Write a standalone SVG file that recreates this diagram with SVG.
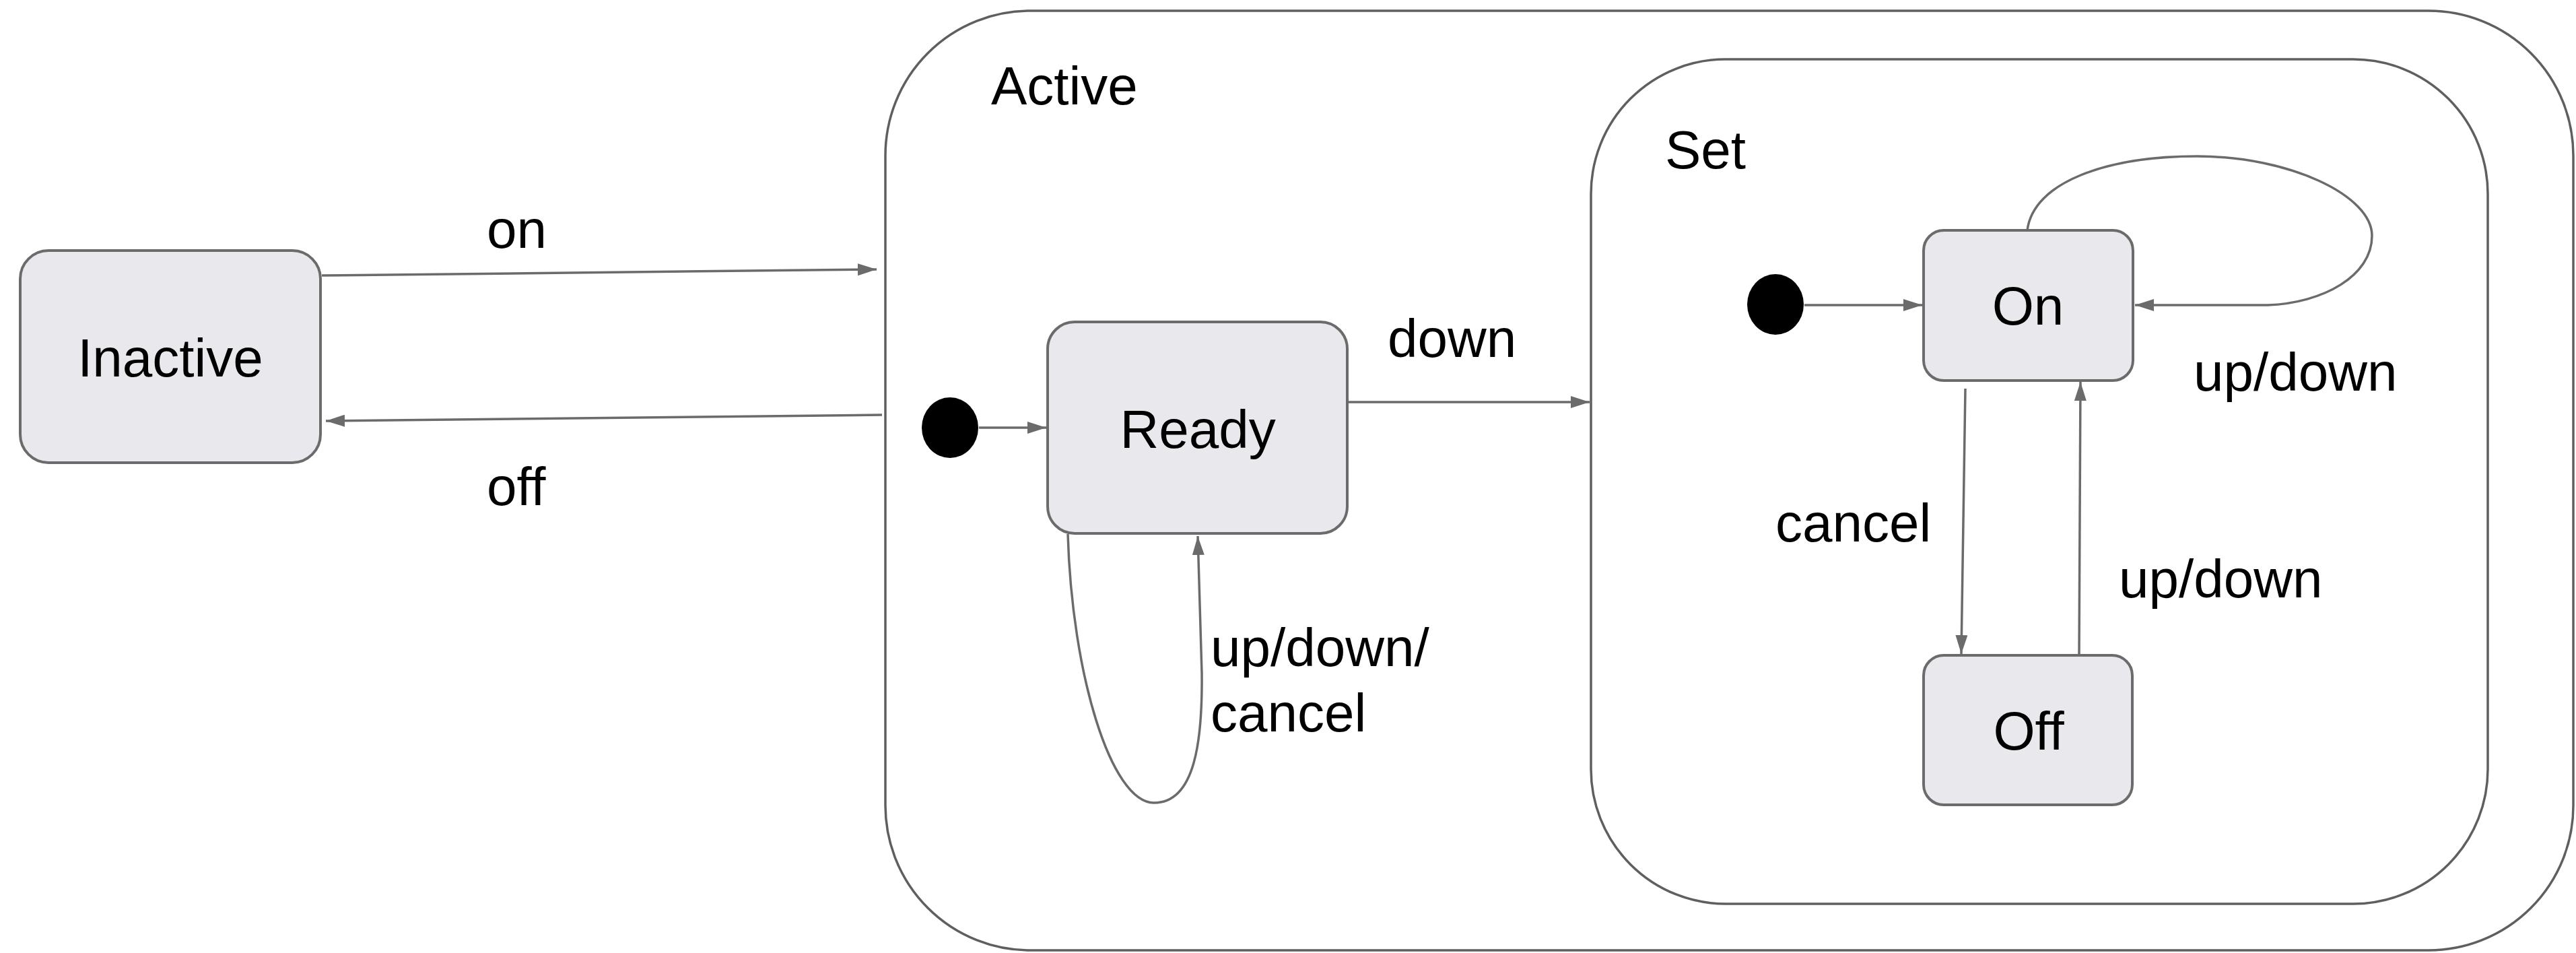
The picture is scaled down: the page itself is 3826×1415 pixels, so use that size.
<svg xmlns="http://www.w3.org/2000/svg" width="3826" height="1415" viewBox="0 0 3826 1415">
<defs>
<style>
.box{fill:#e9e9ed;stroke:#6b6b6b;stroke-width:4}
.container{fill:none;stroke:#5f5f5f;stroke-width:3.5}
.edge{fill:none;stroke:#6b6b6b;stroke-width:3.5;marker-end:url(#arr)}
.init{fill:#000}
text{font-family:"Liberation Sans",Arial,sans-serif;font-size:80px;fill:#000}
.c{text-anchor:middle}
</style>
<marker id="arr" markerUnits="userSpaceOnUse" markerWidth="28" markerHeight="18" refX="28" refY="9" orient="auto">
<path d="M0,0 L28,9 L0,18 z" fill="#6b6b6b"/>
</marker>
</defs>
<rect width="3826" height="1415" fill="#ffffff"/>

<g id="Active">
<rect class="container" x="1315" y="16" width="2507" height="1395" rx="215" ry="215"/>
<text x="1472" y="155">Active</text>
</g>

<g id="Set">
<rect class="container" x="2363" y="88" width="1332" height="1254" rx="200" ry="200"/>
<text x="2473" y="250">Set</text>
</g>

<g id="Inactive">
<rect class="box" x="30" y="372" width="446" height="315" rx="42" ry="42"/>
<text class="c" x="253" y="559">Inactive</text>
</g>

<g id="Ready">
<rect class="box" x="1556" y="478" width="445" height="314" rx="40" ry="40"/>
<text class="c" x="1779" y="665">Ready</text>
</g>

<g id="On">
<rect class="box" x="2857" y="342" width="311" height="223" rx="30" ry="30"/>
<text class="c" x="3012" y="482">On</text>
</g>

<g id="Off">
<rect class="box" x="2857" y="973" width="310" height="222" rx="30" ry="30"/>
<text class="c" x="3013" y="1113">Off</text>
</g>

<g id="ActiveInitial">
<ellipse class="init" cx="1411" cy="635" rx="42" ry="45"/>
</g>

<g id="SetInitial">
<ellipse class="init" cx="2637" cy="452" rx="42" ry="45"/>
</g>

<g id="connectors">
<path class="edge" d="M478,409 L1302,400"/>
<text x="723" y="368">on</text>
<path class="edge" d="M1310,616 L484,625"/>
<text x="723" y="750">off</text>
<path class="edge" d="M1454,635 L1554,635"/>
<path class="edge" d="M2001,597 L2361,597"/>
<text x="2061" y="530">down</text>
<path class="edge" d="M1586,793 C1592,1000 1650,1192 1714,1192 C1775,1192 1786,1100 1785,1000 L1779,796"/>
<text x="1798" y="989">up/down/</text>
<text x="1798" y="1086">cancel</text>
<path class="edge" d="M2680,453 L2855,453"/>
<path class="edge" d="M3011,342 C3020,270 3130,232 3263,232 C3400,232 3523,290 3523,350 C3523,410 3450,450 3368,453 L3171,453"/>
<text x="3258" y="580">up/down</text>
<path class="edge" d="M2919,577 L2913,971"/>
<text x="2637" y="804">cancel</text>
<path class="edge" d="M3088,973 L3090,567"/>
<text x="3147" y="887">up/down</text>
</g>
</svg>
